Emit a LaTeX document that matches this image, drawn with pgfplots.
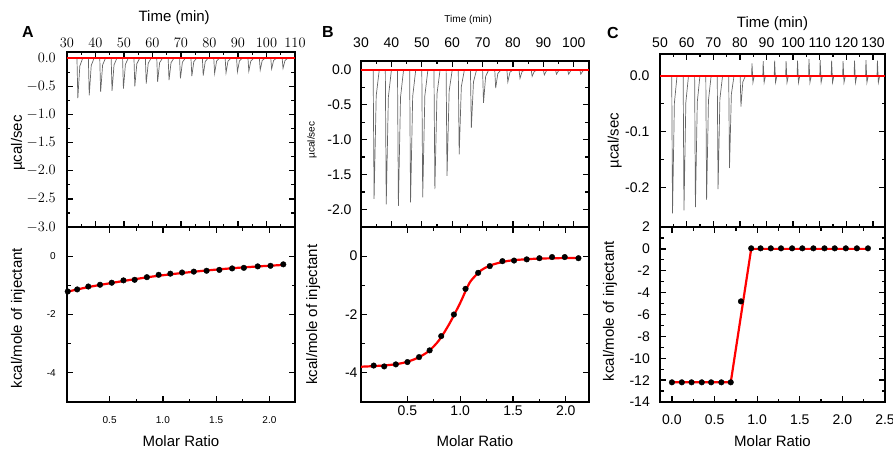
\documentclass[border=0pt]{standalone}
\usepackage{fontspec}
\setmainfont{Liberation Sans}
\usepackage{pgfplots}
\pgfplotsset{compat=1.18}

\pgfplotsset{
  mybase/.style={scale only axis, axis line style={line width=1.6pt},
    tick style={black, line width=1.3pt}, major tick length=6pt, minor tick length=3.5pt,
    minor tick num=1, tick align=inside},
  pAnch/.style={anchor=south west},
  pTick/.style={tick label style={font=\fontsize{14}{16}\selectfont}},
  pLab/.style={label style={font=\fontsize{15}{17}\selectfont}},
  pMath/.style={/pgf/number format/assume math mode=true},
  pTopLab/.style={xticklabel pos=upper, xlabel={Time (min)}, ylabel={µcal/sec},
    yticklabel style={/pgf/number format/fixed, /pgf/number format/fixed zerofill, /pgf/number format/precision=1}},
  pBotLab/.style={xlabel={Molar Ratio}, ylabel={kcal/mole of injectant},
    xticklabel style={/pgf/number format/fixed, /pgf/number format/fixed zerofill, /pgf/number format/precision=1}},
  mytrace/.style={no marks, black!60, line width=0.7pt},
  myred/.style={no marks, red, line width=2.2pt},
  mydots/.style={only marks, mark=*, mark size=2.8pt, black},
}

\begin{document}
\begin{tikzpicture}
\useasboundingbox (0pt,0pt) rectangle (893pt,448pt);

% A top: everything except assume math mode
\begin{axis}[mybase, pAnch, pTick, pLab, pTopLab, at={(67pt,221pt)}, width=228pt, height=175pt,
  xmin=30, xmax=110, ymin=-3, ymax=0.11,
  xtick={30,40,...,110}, ytick={-3,-2.5,...,0},
  xticklabel style={anchor=center, yshift=9.3pt},
  yticklabel style={anchor=east, xshift=-11pt, inner xsep=0pt},
  xlabel style={at={(axis description cs:0.47,1.194)}, anchor=center},
  ylabel style={at={(axis description cs:-0.215,0.48)}, anchor=center}]
\addplot[mytrace] coordinates {(30,0)
 (33.5,0)(33.8,-0.71)(34.5,-0.14)(35.5,0) (37.5,0)(37.8,-0.66)(38.5,-0.13)(39.5,0)
 (41.5,0)(41.8,-0.60)(42.5,-0.12)(43.5,0) (45.5,0)(45.8,-0.58)(46.5,-0.12)(47.5,0)
 (49.5,0)(49.8,-0.54)(50.5,-0.11)(51.5,0) (53.5,0)(53.8,-0.50)(54.5,-0.10)(55.5,0)
 (57.5,0)(57.8,-0.45)(58.5,-0.09)(59.5,0) (61.5,0)(61.8,-0.42)(62.5,-0.08)(63.5,0)
 (65.5,0)(65.8,-0.39)(66.5,-0.08)(67.5,0) (69.5,0)(69.8,-0.36)(70.5,-0.07)(71.5,0)
 (73.5,0)(73.8,-0.32)(74.5,-0.06)(75.5,0) (77.5,0)(77.8,-0.31)(78.5,-0.06)(79.5,0)
 (81.5,0)(81.8,-0.27)(82.5,-0.05)(83.5,0) (85.5,0)(85.8,-0.26)(86.5,-0.05)(87.5,0)
 (89.5,0)(89.8,-0.24)(90.5,-0.05)(91.5,0) (93.5,0)(93.8,-0.23)(94.5,-0.05)(95.5,0)
 (97.5,0)(97.8,-0.21)(98.5,-0.04)(99.5,0) (101.5,0)(101.8,-0.19)(102.5,-0.04)(103.5,0)
 (105.5,0)(105.8,-0.18)(106.5,-0.04)(107.5,0) (110,0)};
\addplot[myred] coordinates {(30,0) (110,0)};
\end{axis}

% A bottom: everything except tick label font
\begin{axis}[mybase, pAnch, pLab, pMath, pBotLab, at={(67pt,46pt)}, width=228pt, height=175pt,
  xmin=0.1, xmax=2.24, ymin=-5, ymax=1,
  xtick={0.5,1,1.5,2}, ytick={-4,-2,0},
  xticklabel style={anchor=center, yshift=-18pt},
  yticklabel style={anchor=east, xshift=-11pt, inner xsep=0pt},
  xlabel style={at={(axis description cs:0.5,-0.221)}, anchor=center},
  ylabel style={at={(axis description cs:-0.215,0.48)}, anchor=center}]
\addplot[myred, smooth] coordinates {(0.1,-1.22)(0.3,-1.06)(0.5,-0.93)(0.7,-0.81)(0.9,-0.70)
 (1.1,-0.61)(1.3,-0.53)(1.5,-0.46)(1.7,-0.40)(1.9,-0.35)(2.13,-0.30)};
\addplot[mydots] coordinates {(0.107,-1.21)(0.196,-1.14)(0.30,-1.04)(0.41,-0.98)(0.52,-0.91)
 (0.63,-0.83)(0.735,-0.81)(0.85,-0.72)(0.96,-0.64)(1.07,-0.60)(1.18,-0.56)(1.29,-0.53)
 (1.41,-0.50)(1.53,-0.47)(1.65,-0.42)(1.76,-0.40)(1.89,-0.35)(2.01,-0.33)(2.13,-0.28)};
\end{axis}

% B top: everything except label font
\begin{axis}[mybase, pAnch, pTick, pMath, pTopLab, at={(361pt,221pt)}, width=228pt, height=166pt,
  xmin=30, xmax=105, ymin=-2.255, ymax=0.13,
  xtick={30,40,...,100}, ytick={-2,-1.5,...,0},
  xticklabel style={anchor=center, yshift=18.3pt},
  yticklabel style={anchor=east, xshift=-9.3pt, inner xsep=0pt},
  xlabel style={at={(axis description cs:0.47,1.247)}, anchor=center},
  ylabel style={at={(axis description cs:-0.215,0.524)}, anchor=center}]
\addplot[mytrace] coordinates {(30,0)
 (34,0)(34.3,-1.85)(35,-0.37)(36,0) (38,0)(38.3,-1.93)(39,-0.39)(40,0)
 (42,0)(42.3,-1.95)(43,-0.39)(44,0) (46,0)(46.3,-1.90)(47,-0.38)(48,0)
 (50,0)(50.3,-1.83)(51,-0.37)(52,0) (54,0)(54.3,-1.71)(55,-0.34)(56,0)
 (58,0)(58.3,-1.52)(59,-0.30)(60,0) (62,0)(62.3,-1.21)(63,-0.24)(64,0)
 (66,0)(66.3,-0.83)(67,-0.17)(68,0) (70,0)(70.3,-0.47)(71,-0.09)(72,0)
 (74,0)(74.3,-0.26)(75,-0.05)(76,0) (78,0)(78.3,-0.17)(79,-0.03)(80,0)
 (82,0)(82.3,-0.12)(83,-0.02)(84,0) (86,0)(86.3,-0.09)(87,-0.02)(88,0)
 (90,0)(90.3,-0.07)(91,-0.01)(92,0) (94,0)(94.3,-0.06)(95,-0.01)(96,0)
 (98,0)(98.3,-0.06)(99,-0.01)(100,0) (102,0)(102.3,-0.06)(103,-0.01)(104,0) (105,0)};
\addplot[myred] coordinates {(30,0) (105,0)};
\end{axis}

% B bottom: everything except moved tick labels
\begin{axis}[mybase, pAnch, pTick, pLab, pMath, pBotLab, at={(361pt,46pt)}, width=228pt, height=175pt,
  xmin=0.06, xmax=2.22, ymin=-5, ymax=1,
  xtick={0.5,1,1.5,2}, ytick={-4,-2,0},
  xlabel style={at={(axis description cs:0.5,-0.221)}, anchor=center},
  ylabel style={at={(axis description cs:-0.21,0.5)}, anchor=center}]
\addplot[myred, smooth] coordinates {(0.06,-3.79)(0.18,-3.77)(0.3,-3.74)(0.4,-3.70)(0.5,-3.62)
 (0.6,-3.48)(0.7,-3.26)(0.8,-2.88)(0.9,-2.30)(1.0,-1.60)(1.05,-1.20)(1.1,-0.85)
 (1.2,-0.48)(1.3,-0.30)(1.4,-0.20)(1.5,-0.14)(1.7,-0.09)(1.9,-0.07)(2.12,-0.06)};
\addplot[mydots] coordinates {(0.18,-3.75)(0.28,-3.78)(0.39,-3.71)(0.50,-3.63)(0.61,-3.46)
 (0.71,-3.23)(0.82,-2.74)(0.94,-2.00)(1.05,-1.12)(1.17,-0.57)(1.28,-0.34)(1.40,-0.17)
 (1.51,-0.15)(1.63,-0.11)(1.75,-0.07)(1.87,-0.03)(1.99,-0.03)(2.12,-0.07)};
\end{axis}

% C top: everything except label positions
\begin{axis}[mybase, pAnch, pTick, pLab, pMath, pTopLab, at={(660pt,221pt)}, width=225pt, height=173pt,
  xmin=50, xmax=134.5, ymin=-0.2706, ymax=0.039,
  xtick={50,60,...,130}, ytick={-0.2,-0.1,0},
  xticklabel style={anchor=center, yshift=11.6pt},
  yticklabel style={anchor=east, xshift=-10.5pt, inner xsep=0pt}]
\addplot[mytrace] coordinates {(50,0)
 (54.4,0)(54.7,-0.246)(55.4,-0.049)(56.4,0) (58.7,0)(59.0,-0.241)(59.7,-0.048)(60.7,0)
 (63.0,0)(63.3,-0.235)(64.0,-0.047)(65.0,0) (67.2,0)(67.5,-0.222)(68.2,-0.044)(69.2,0)
 (71.5,0)(71.8,-0.203)(72.5,-0.041)(73.5,0) (75.8,0)(76.1,-0.165)(76.8,-0.033)(77.8,0)
 (80.1,0)(80.4,-0.055)(81.1,-0.011)(82.1,0)
 (84.4,0)(84.55,0.022)(84.9,-0.012)(85.4,0) (88.6,0)(88.75,0.026)(89.1,-0.012)(89.6,0)
 (92.9,0)(93.05,0.027)(93.4,-0.012)(93.9,0) (97.2,0)(97.35,0.026)(97.7,-0.012)(98.2,0)
 (101.5,0)(101.65,0.027)(102.0,-0.012)(102.5,0) (105.8,0)(105.95,0.030)(106.3,-0.012)(106.8,0)
 (110.0,0)(110.15,0.028)(110.5,-0.012)(111.0,0) (114.3,0)(114.45,0.027)(114.8,-0.012)(115.3,0)
 (118.6,0)(118.75,0.026)(119.1,-0.012)(119.6,0) (122.9,0)(123.05,0.027)(123.4,-0.012)(123.9,0)
 (127.2,0)(127.35,0.028)(127.7,-0.012)(128.2,0) (131.5,0)(131.65,0.027)(132.0,-0.012)(132.5,0)
 (134.5,0)};
\addplot[myred] coordinates {(50,0) (134.5,0)};
\end{axis}

% C bottom: everything except the anchor key
\begin{axis}[mybase, pTick, pLab, pMath, pBotLab, at={(660pt,46pt)}, width=225pt, height=175pt,
  xmin=-0.14, xmax=2.5, ymin=-14, ymax=2,
  xtick={0,0.5,...,2.5}, ytick={-14,-12,...,2},
  xticklabel style={anchor=center, yshift=-18pt},
  yticklabel style={anchor=east, xshift=-10pt, inner xsep=0pt},
  xlabel style={at={(axis description cs:0.5,-0.221)}, anchor=center},
  ylabel style={at={(axis description cs:-0.222,0.52)}, anchor=center}]
\addplot[myred] coordinates {(0,-12.2)(0.69,-12.2)(0.93,0)(2.30,0)};
\addplot[mydots] coordinates {(0,-12.2)(0.116,-12.2)(0.23,-12.2)(0.35,-12.2)(0.46,-12.2)
 (0.58,-12.2)(0.69,-12.2)(0.81,-4.8)(0.93,0.05)(1.04,0.05)(1.16,0.05)(1.28,0.05)
 (1.41,0.05)(1.53,0.05)(1.66,0.05)(1.79,0.05)(1.91,0.05)(2.04,0.05)(2.17,0.05)(2.30,0.05)};
\end{axis}

\node[font=\fontsize{16}{18}\selectfont\bfseries] at (28pt,416pt) {A};
\node[font=\fontsize{16}{18}\selectfont\bfseries] at (328pt,416pt) {B};
\node[font=\fontsize{16}{18}\selectfont\bfseries] at (613pt,415pt) {C};
\end{tikzpicture}
\end{document}
